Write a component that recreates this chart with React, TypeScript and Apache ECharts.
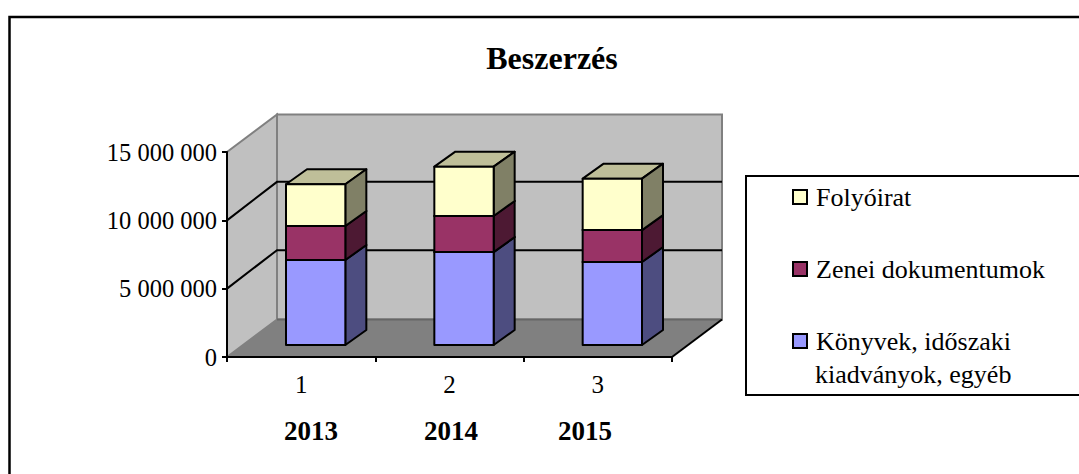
import React, { useEffect, useRef } from "react";
import * as echarts from "echarts";

const categories = ["1", "2", "3"];
const yearLabels = ["2013", "2014", "2015"];
const yTicks = [0, 5000000, 10000000, 15000000];
const books = [6220000, 6800000, 6070000];
const music = [2490000, 2640000, 2340000];
const journals = [3050000, 3610000, 3760000];
const booksName = "Könyvek, időszaki kiadványok, egyéb";
const musicName = "Zenei dokumentumok";
const journalsName = "Folyóirat";
const yMax = 15000000;

const FONT = "Liberation Serif";
const WALL_DX = 50;
const WALL_DY = -37.5;
const GRID_DY = -38.5;
const BAR_DX = 14.5;
const BAR_DY = -12;
const DEPTH_DX = 21;
const DEPTH_DY = -15;
const BAR_RATIO = 0.4;

function stackedData(values: number[], below: number[][]) {
  return values.map((v, i) => {
    const base = below.reduce((s, arr) => s + arr[i], 0);
    return [i, base, base + v];
  });
}

function poly(points: number[][], fill: string, z2 = 0) {
  return {
    type: "polygon",
    z2,
    shape: { points },
    style: { fill, stroke: "#000", lineWidth: 2, lineJoin: "round" },
  };
}

function barSeries(name: string, data: number[][], front: string, side: string, top: string, z: number) {
  return {
    type: "custom",
    name,
    z,
    clip: false,
    silent: true,
    coordinateSystem: "cartesian2d",
    itemStyle: { color: front, borderColor: "#000", borderWidth: 2 },
    encode: { x: 0, y: [1, 2] },
    data,
    renderItem(_: any, api: any) {
      const c0 = api.coord([api.value(0), api.value(1)]);
      const c1 = api.coord([api.value(0), api.value(2)]);
      const w = api.size([1, 0])[0] * BAR_RATIO;
      const l = c0[0] + BAR_DX - w / 2;
      const r = l + w;
      const b = c0[1] + BAR_DY;
      const t = c1[1] + BAR_DY;
      return {
        type: "group",
        children: [
          poly([[l, t], [l + DEPTH_DX, t + DEPTH_DY], [r + DEPTH_DX, t + DEPTH_DY], [r, t]], top),
          poly([[r, b], [r + DEPTH_DX, b + DEPTH_DY], [r + DEPTH_DX, t + DEPTH_DY], [r, t]], side),
          poly([[l, b], [r, b], [r, t], [l, t]], front),
        ],
      };
    },
  };
}

export default function App() {
  const ref = useRef<HTMLDivElement>(null);
  useEffect(() => {
    const chart = echarts.init(ref.current!, null, { renderer: "svg" });
    chart.setOption({
      animation: false,
      backgroundColor: "#fff",
      textStyle: { fontFamily: FONT },
      title: {
        text: "Beszerzés",
        left: 547,
        top: 37,
        textAlign: "center",
        textStyle: { fontFamily: FONT, fontSize: 32, fontWeight: "bold", color: "#000" },
      },
      grid: { left: 227, top: 152, width: 445, height: 205 },
      xAxis: {
        type: "category",
        data: categories,
        z: 6,
        axisLine: { lineStyle: { color: "#000", width: 2 } },
        axisTick: { show: true, length: 5, lineStyle: { color: "#000", width: 2 } },
        axisLabel: { color: "#000", fontFamily: FONT, fontSize: 25, margin: 15 },
        splitLine: { show: false },
      },
      yAxis: {
        type: "value",
        min: 0,
        max: yMax,
        interval: 5000000,
        z: 6,
        axisLine: { show: true, lineStyle: { color: "#000", width: 2 } },
        axisTick: { show: true, length: 5, lineStyle: { color: "#000", width: 2 } },
        axisLabel: {
          color: "#000",
          fontFamily: FONT,
          fontSize: 24.5,
          margin: 10,
          formatter: (v: number) => String(v).replace(/\B(?=(\d{3})+$)/g, " "),
        },
        splitLine: { show: false },
      },
      legend: {
        orient: "vertical",
        left: 792,
        top: 184,
        padding: 0,
        itemWidth: 14,
        itemHeight: 14,
        itemGap: 46,
        icon: "rect",
        selectedMode: false,
        data: [journalsName, musicName, booksName],
        formatter: (n: string) => (n === booksName ? "Könyvek, időszaki" : n),
        textStyle: { fontFamily: FONT, fontSize: 26, color: "#000", padding: [0, 0, 0, 4], lineHeight: 26 },
      },
      graphic: [
        {
          type: "polyline",
          silent: true,
          shape: { points: [[9.5, 474], [9.5, 17], [1079, 17]] },
          style: { fill: "none", stroke: "#000", lineWidth: 2.5 },
        },
        {
          type: "polyline",
          silent: true,
          shape: { points: [[1079, 176], [746, 176], [746, 395], [1079, 395]] },
          style: { fill: "none", stroke: "#000", lineWidth: 2 },
        },
        {
          type: "text",
          x: 815,
          y: 374,
          style: { text: "kiadványok, egyéb", font: `26px "${FONT}"`, fill: "#000", verticalAlign: "middle" },
        },
        ...yearLabels.map((t, i) => ({
          type: "text",
          x: [311, 451, 585][i],
          y: 431,
          style: {
            text: t,
            font: `bold 27px "${FONT}"`,
            fill: "#000",
            align: "center",
            verticalAlign: "middle",
          },
        })),
      ],
      series: [
        {
          type: "custom",
          name: "walls",
          z: 1,
          silent: true,
          clip: false,
          coordinateSystem: "cartesian2d",
          encode: { x: 0, y: 1 },
          data: [[0, yMax]],
          renderItem(params: any, api: any) {
            const cs = params.coordSys;
            const x0 = cs.x;
            const x1 = cs.x + cs.width;
            const yT = cs.y;
            const yB = cs.y + cs.height;
            const plain = (points: number[][], fill: string) => ({
              type: "polygon",
              shape: { points },
              style: { fill, stroke: "#808080", lineWidth: 2 },
            });
            return {
              type: "group",
              children: [
                plain([[x0, yB], [x0 + WALL_DX, yB + WALL_DY], [x0 + WALL_DX, yT + WALL_DY], [x0, yT]], "#c0c0c0"),
                plain(
                  [
                    [x0 + WALL_DX, yB + WALL_DY],
                    [x1 + WALL_DX, yB + WALL_DY],
                    [x1 + WALL_DX, yT + WALL_DY],
                    [x0 + WALL_DX, yT + WALL_DY],
                  ],
                  "#c0c0c0"
                ),
                {
                  type: "polygon",
                  shape: {
                    points: [[x0, yB], [x0 + WALL_DX, yB + WALL_DY], [x1 + WALL_DX, yB + WALL_DY], [x1, yB]],
                  },
                  style: { fill: "#808080" },
                },
                {
                  type: "line",
                  shape: { x1: x0 + WALL_DX, y1: yB + WALL_DY, x2: x1 + WALL_DX, y2: yB + WALL_DY },
                  style: { stroke: "#666666", lineWidth: 2 },
                },
                {
                  type: "line",
                  shape: { x1: x1, y1: yB, x2: x1 + WALL_DX, y2: yB + WALL_DY },
                  style: { stroke: "#000", lineWidth: 2 },
                },
              ],
            };
          },
        },
        {
          type: "custom",
          name: "gridlines",
          z: 1.5,
          silent: true,
          clip: false,
          coordinateSystem: "cartesian2d",
          encode: { x: 0, y: 1 },
          data: yTicks.filter((v) => v > 0 && v < yMax).map((v) => [0, v]),
          renderItem(params: any, api: any) {
            const cs = params.coordSys;
            const y = api.coord([0, api.value(1)])[1];
            return {
              type: "polyline",
              shape: {
                points: [
                  [cs.x, y],
                  [cs.x + WALL_DX, y + GRID_DY],
                  [cs.x + cs.width + WALL_DX, y + GRID_DY],
                ],
              },
              style: { fill: "none", stroke: "#000", lineWidth: 2 },
            };
          },
        },
        barSeries(booksName, stackedData(books, []), "#9999ff", "#4d4d80", "#7373bf", 3),
        barSeries(musicName, stackedData(music, [books]), "#993366", "#4d1933", "#73264d", 4),
        barSeries(journalsName, stackedData(journals, [books, music]), "#ffffcc", "#808066", "#bfbf99", 5),
      ],
    });
    return () => chart.dispose();
  }, []);
  return <div ref={ref} style={{ position: "fixed", left: 0, top: 0, width: 1079, height: 474 }} />;
}
